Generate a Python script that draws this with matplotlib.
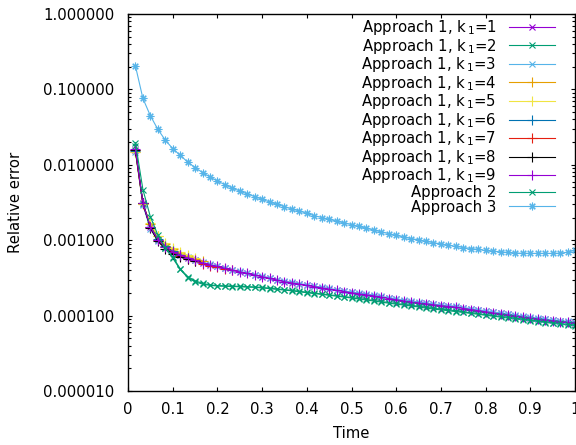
import matplotlib
matplotlib.use("Agg")
import matplotlib.pyplot as plt
from matplotlib.ticker import FixedLocator, LogLocator, NullFormatter, FuncFormatter

# ---------------- data ----------------
time_grid = [k / 60 for k in range(1, 61)]

# upper cluster (Approach 1, k1=1 / k1=3 / k1=9 nearly coincide)
err_k1_1 = [0.0157, 0.0031, 0.00148, 0.00101, 0.00082, 0.00070, 0.00063, 0.00058, 0.00054, 0.00050,
            0.00047, 0.000450, 0.000425, 0.000400, 0.000382, 0.000364, 0.000347, 0.000330, 0.000314, 0.000298,
            0.000283, 0.000273, 0.000263, 0.000253, 0.000244, 0.000235, 0.000226, 0.000218, 0.000210, 0.000203,
            0.000196, 0.000190, 0.000184, 0.000177, 0.000170, 0.000164, 0.000158, 0.000153, 0.000149, 0.000145,
            0.000141, 0.000137, 0.000134, 0.000131, 0.000126, 0.000122, 0.000118, 0.000114, 0.000110, 0.000107,
            0.000104, 0.000100, 0.0000967, 0.0000940, 0.0000915, 0.0000890, 0.0000865, 0.0000845, 0.0000825, 0.0000805]
err_k1_3 = [0.0150, 0.0029, 0.00142, 0.00099, 0.00081, 0.00071, 0.00064, 0.00059, 0.00055, 0.00051,
            0.00048, 0.000455, 0.000430, 0.000405, 0.000386, 0.000367, 0.000350, 0.000333, 0.000317, 0.000301,
            0.000286, 0.000276, 0.000266, 0.000256, 0.000247, 0.000238, 0.000229, 0.000221, 0.000213, 0.000206,
            0.000199, 0.000193, 0.000187, 0.000180, 0.000173, 0.000167, 0.000161, 0.000156, 0.000151, 0.000147,
            0.000143, 0.000139, 0.000136, 0.000133, 0.000128, 0.000124, 0.000120, 0.000116, 0.000112, 0.000109,
            0.000106, 0.000102, 0.0000985, 0.0000957, 0.0000932, 0.0000906, 0.0000880, 0.0000860, 0.0000840, 0.0000820]
err_k1_9 = [0.0160, 0.0031, 0.00150, 0.00102, 0.00082, 0.00070, 0.00063, 0.00058, 0.00054, 0.00050,
            0.00047, 0.000448, 0.000423, 0.000398, 0.000380, 0.000362, 0.000345, 0.000328, 0.000312, 0.000296,
            0.000281, 0.000271, 0.000261, 0.000251, 0.000242, 0.000233, 0.000224, 0.000216, 0.000208, 0.000201,
            0.000194, 0.000188, 0.000182, 0.000175, 0.000168, 0.000162, 0.000156, 0.000151, 0.000147, 0.000143,
            0.000139, 0.000135, 0.000132, 0.000129, 0.000124, 0.000120, 0.000116, 0.000112, 0.000108, 0.000105,
            0.000102, 0.0000985, 0.0000952, 0.0000926, 0.0000902, 0.0000878, 0.0000854, 0.0000834, 0.0000815, 0.0000800]

# lower (green) cluster
err_k1_2 = [0.0175, 0.0030, 0.00160, 0.00105, 0.00078, 0.00058, 0.00041, 0.00032, 0.000280, 0.000262,
            0.000252, 0.000247, 0.000245, 0.000243, 0.000241, 0.000239, 0.000237, 0.000233, 0.000228, 0.000223,
            0.000218, 0.000213, 0.000207, 0.000201, 0.000196, 0.000191, 0.000186, 0.000181, 0.000176, 0.000171,
            0.000166, 0.000161, 0.000156, 0.000151, 0.000146, 0.000142, 0.000138, 0.000134, 0.000130, 0.000126,
            0.000122, 0.000119, 0.000116, 0.000113, 0.000110, 0.000107, 0.000104, 0.000101, 0.0000980, 0.0000955,
            0.0000930, 0.0000905, 0.0000880, 0.0000855, 0.0000832, 0.0000810, 0.0000790, 0.0000770, 0.0000752, 0.0000735]
err_approach2 = [0.0196, 0.0047, 0.00205, 0.00118, 0.00080, 0.00060, 0.00042, 0.00033, 0.00029, 0.000268,
                 0.000255, 0.000250, 0.000248, 0.000246, 0.000244, 0.000242, 0.000240, 0.000236, 0.000231, 0.000226,
                 0.000221, 0.000216, 0.000210, 0.000204, 0.000199, 0.000194, 0.000189, 0.000184, 0.000179, 0.000174,
                 0.000169, 0.000164, 0.000159, 0.000154, 0.000149, 0.000145, 0.000141, 0.000137, 0.000133, 0.000129,
                 0.000125, 0.000122, 0.000119, 0.000116, 0.000112, 0.000109, 0.000106, 0.000103, 0.000100, 0.0000975,
                 0.0000950, 0.0000925, 0.0000900, 0.0000875, 0.0000850, 0.0000828, 0.0000806, 0.0000786, 0.0000767, 0.0000750]

# short runs (Approach 1, k1=4..8), on the first points of the grid
err_k1_4 = [0.0150, 0.0030, 0.00165, 0.00112, 0.00090, 0.00077, 0.00068, 0.00062, 0.00057, 0.00053]
err_k1_5 = [0.0148, 0.0030, 0.00168, 0.00114, 0.00091, 0.00078, 0.00069, 0.00063, 0.00058]
err_k1_6 = [0.0152, 0.0031, 0.00150, 0.00103, 0.00083, 0.00071, 0.00064, 0.00058]
err_k1_7 = [0.0155, 0.0031, 0.00149, 0.00101, 0.00081, 0.00069, 0.00062, 0.00057, 0.00053, 0.00049,
            0.00046, 0.000440, 0.000418, 0.000398]
err_k1_8 = [0.0156, 0.0031, 0.00145, 0.00097, 0.00077, 0.00066, 0.00060, 0.00056, 0.00053]

err_approach3 = [0.204, 0.076, 0.0448, 0.0296, 0.0213, 0.0164, 0.0134, 0.0109, 0.0092, 0.0079,
                 0.0069, 0.0061, 0.00545, 0.0049, 0.00449, 0.0041, 0.00378, 0.00349, 0.00321, 0.00299,
                 0.00278, 0.00259, 0.00244, 0.00227, 0.00211, 0.00200, 0.00189, 0.00179, 0.00169, 0.00161,
                 0.00152, 0.00144, 0.00136, 0.00129, 0.00122, 0.00116, 0.00110, 0.00105, 0.00101, 0.000964,
                 0.000927, 0.000891, 0.000859, 0.000828, 0.000800, 0.000776, 0.000753, 0.000732, 0.000715, 0.000700,
                 0.000687, 0.000676, 0.000670, 0.000668, 0.000668, 0.000668, 0.000668, 0.000672, 0.000693, 0.000736]

labels = ["Approach 1, k$_{\\,1}$=%d" % i for i in range(1, 10)] + ["Approach 2", "Approach 3"]
colors = ["#9400d3", "#009e73", "#56b4e9", "#e69f00", "#f0e442", "#0072b2", "#e51e10", "#000000",
          "#9400d3", "#009e73", "#56b4e9"]
x_ticks = [0, 0.1, 0.2, 0.3, 0.4, 0.5, 0.6, 0.7, 0.8, 0.9, 1]
y_ticks = [1e-5, 1e-4, 1e-3, 1e-2, 1e-1, 1]

# ---------------- plot ----------------
FS = 10.7
plt.rcParams['font.family'] = ['DejaVu Sans']
plt.rcParams['mathtext.fontset'] = 'dejavusans'
fig = plt.figure(figsize=(5.76, 4.45), dpi=100)
ax = fig.add_axes([128 / 576, 1 - 391 / 445, 447 / 576, 377 / 445])

series = [err_k1_1, err_k1_2, err_k1_3, err_k1_4, err_k1_5, err_k1_6, err_k1_7, err_k1_8, err_k1_9,
          err_approach2, err_approach3]
markers = ["x", "x", "x", "+", "+", "+", "+", "+", "+", "x", (8, 2, 0)]
sizes = [5, 5, 5, 6.5, 6.5, 6.5, 6.5, 6.5, 6.5, 5, 5.5]
for vals, lab, col, mk, ms in zip(series, labels, colors, markers, sizes):
    ax.plot(time_grid[:len(vals)], vals, color=col, marker=mk, ms=ms, mew=0.8, lw=0.8, label=lab)

ax.set_yscale("log")
ax.set_xlim(0, 1)
ax.set_ylim(1e-5, 1)
ax.xaxis.set_major_locator(FixedLocator(x_ticks))
ax.xaxis.set_major_formatter(FuncFormatter(lambda v, p: "%g" % v))
ax.yaxis.set_major_locator(FixedLocator(y_ticks))
ax.yaxis.set_major_formatter(FuncFormatter(lambda v, p: "%f" % v))
ax.yaxis.set_minor_locator(LogLocator(base=10, subs=range(2, 10)))
ax.yaxis.set_minor_formatter(NullFormatter())
ax.tick_params(which="both", direction="in", top=True, right=True, labelsize=FS)
ax.tick_params(axis="y", pad=10)
ax.tick_params(axis="x", pad=8)
ax.tick_params(which="major", length=3.2, width=0.8)
ax.tick_params(which="minor", length=1.9, width=0.8)
for s in ax.spines.values():
    s.set_linewidth(1.0)

ax.set_xlabel("Time", fontsize=FS, va="top")
ax.set_ylabel("Relative error", fontsize=FS)
ax.xaxis.set_label_coords(0.5, (391 - 426) / 377)
ax.yaxis.set_label_coords((23 - 128) / 447, 0.5)

ax.legend(loc="upper right", bbox_to_anchor=((555 - 128) / 447, (391 - 18) / 377),
          frameon=False, markerfirst=False, fontsize=FS,
          handlelength=3.1, handletextpad=0.85, labelspacing=-0.03,
          borderaxespad=0.0, borderpad=0.0)

fig.savefig("out.png", dpi=100)
